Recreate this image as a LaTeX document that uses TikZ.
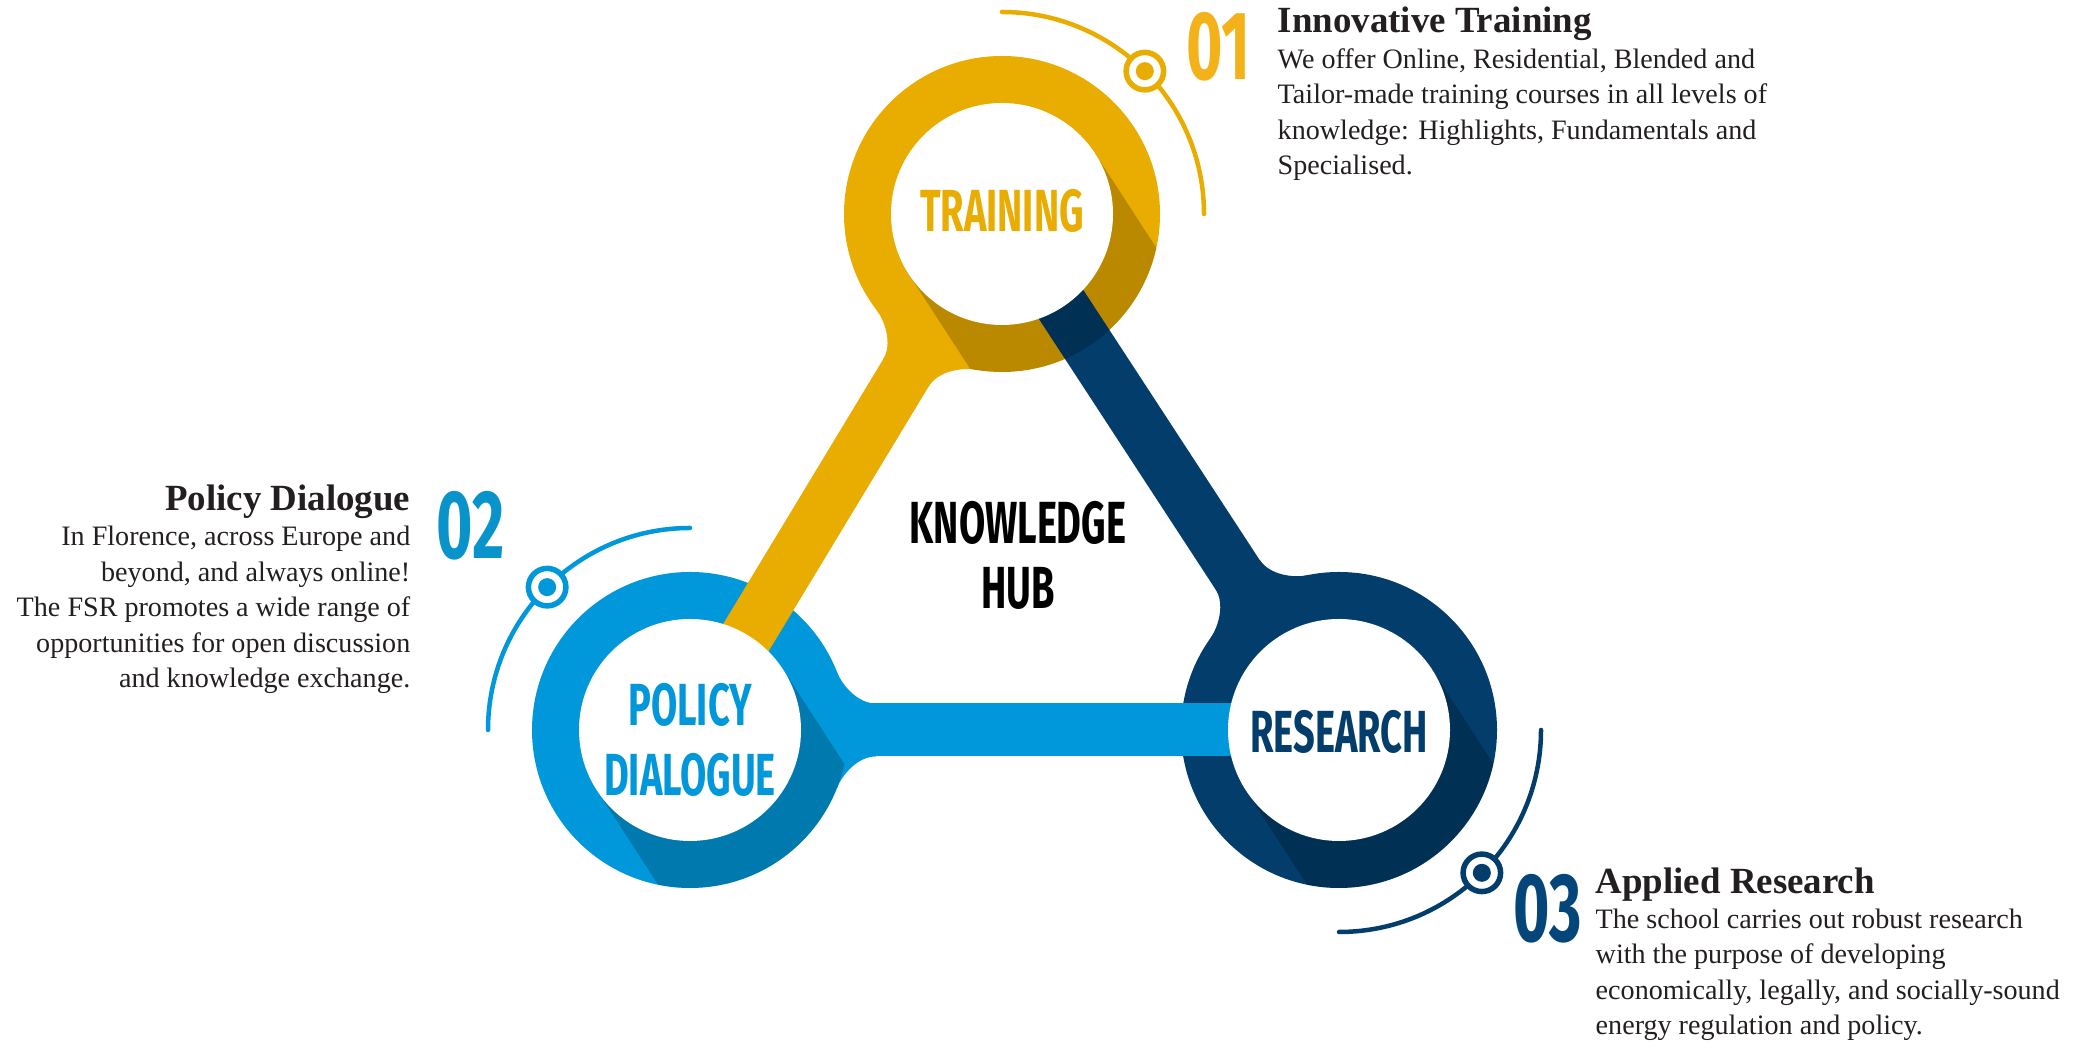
\documentclass[tikz,border=0pt]{standalone}
\usepackage{fontspec}
\setmainfont{Liberation Serif}
\newfontfamily\hubfont[FakeStretch=0.64]{Fira Sans}
\usetikzlibrary{calc,positioning}
\definecolor{gold}{HTML}{E9AC00}
\definecolor{sky}{HTML}{0098DA}
\definecolor{navy}{HTML}{023D6B}
\definecolor{ink}{HTML}{231F20}
\definecolor{goldnum}{HTML}{F3B21A}
\definecolor{skynum}{HTML}{0893CB}
\definecolor{navynum}{HTML}{04457A}
\newcommand{\head}[1]{{\fontsize{10.5}{10}\selectfont\bfseries #1}}
% flared joint where a bar leaves its own ring
\newcommand{\neck}[3]{%
  \begin{scope}[shift={(#1)},rotate=#2]
    \fill[#3] (21.6:158) .. controls (152.3,44.4) and (167.8,26.5) .. (185.8,26.5)
      -- (185.8,-26.5) .. controls (167.8,-26.5) and (152.3,-44.4) .. (-21.6:158) -- cycle;
  \end{scope}}

\begin{document}
\begin{tikzpicture}[x=0.1mm,y=0.1mm,
  bar/.style={line width=5.3mm},
  arcline/.style={line width=0.45mm,line cap=round},
  castshadow/.style={fill=black,opacity=.2},
  hub/.style={font=\hubfont\bfseries\fontsize{16.9}{19.9}\selectfont,align=center,inner sep=0},
  num/.style={font=\hubfont\bfseries\fontsize{27.7}{30}\selectfont,inner sep=0},
  blurb/.style={font=\fontsize{8}{10.1}\selectfont,text=ink,inner sep=0},
  knob/.style={circle,draw=#1,line width=0.55mm,fill=white,minimum size=3.75mm,inner sep=0,
    path picture={\fill[#1] (path picture bounding box.center) circle[radius=0.9mm];}}]
\useasboundingbox (0,0) rectangle (2100,1045);
\coordinate (T) at (1002,831);
\coordinate (P) at (690,315);
\coordinate (R) at (1339,315);

% rings
\fill[gold] (T) circle[radius=158];
\fill[sky] (P) circle[radius=158];
\fill[navy] (R) circle[radius=158];

% bars between the rings
\draw[bar,gold] (T) -- (P);
\draw[bar,navy] (R) -- (T);
\draw[bar,sky] (P) -- (R);
\neck{T}{238.84}{gold}
\neck{R}{123.1}{navy}
\neck{P}{0}{sky}

% long shadows
\foreach \c in {T,P,R}{
  \begin{scope}
    \clip (\c) circle[radius=158];
    \fill[castshadow] ([shift={(33:111)}]\c) -- ++(-57:420) -- ++(213:222)
      -- ([shift={(213:111)}]\c) -- cycle;
  \end{scope}
  \fill[white] (\c) circle[radius=111];
}

% ring labels
\node[hub,text=gold] (tlabel) at ($(T)+(0,3)$) {TRAINING};
\node[hub,text=sky] (plabel) at ($(P)+(0,-10)$) {POLICY\\DIALOGUE};
\node[hub,text=navy] (rlabel) at ($(R)+(0,-2)$) {RESEARCH};
\node[hub,font=\hubfont\bfseries\fontsize{16.9}{18.5}\selectfont] (hub) at (1018,490) {KNOWLEDGE\\HUB};

% outer arcs with knobs
\draw[arcline,gold] ([shift={(90:202)}]T) arc[start angle=90,end angle=0,radius=202];
\draw[arcline,sky] ([shift={(90:202)}]P) arc[start angle=90,end angle=180,radius=202];
\draw[arcline,navy] ([shift={(0:202)}]R) arc[start angle=0,end angle=-90,radius=202];
\node[knob=gold] (tknob) at ([shift={(45:202)}]T) {};
\node[knob=sky] (pknob) at ([shift={(135:202)}]P) {};
\node[knob=navy] (rknob) at ([shift={(-45:202)}]R) {};

% numbers
\node[num,text=goldnum,anchor=base west] (tnum) at (1186,965) {01};
\node[num,text=skynum,anchor=base east] (pnum) at (505,486) {02};
\node[num,text=navynum,anchor=base west] (rnum) at (1513,103) {03};

% descriptions
\node[blurb,anchor=base west,align=left] (ttext) at (1277,870) {\head{Innovative Training}\\
We offer Online, Residential, Blended and\\
Tailor-made training courses in all levels of\\
knowledge: Highlights, Fundamentals and\\
Specialised.};
\node[blurb,anchor=base east,align=right] (ptext) at (411,357) {\head{Policy Dialogue}\\
In Florence, across Europe and\\
beyond, and always online!\\
The FSR promotes a wide range of\\
opportunities for open discussion\\
and knowledge exchange.};
\node[blurb,anchor=base west,align=left] (rtext) at (1595,10) {\head{Applied Research}\\
The school carries out robust research\\
with the purpose of developing\\
economically, legally, and socially-sound\\
energy regulation and policy.};
\end{tikzpicture}
\end{document}
